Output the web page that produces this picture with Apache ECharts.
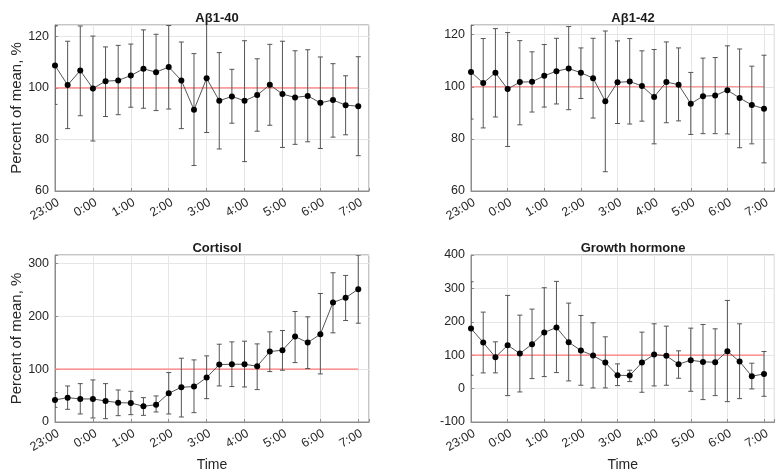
<!DOCTYPE html>
<html>
<head>
<meta charset="utf-8">
<script src="https://cdn.jsdelivr.net/npm/echarts@6/dist/echarts.min.js"></script>
<style>html,body{margin:0;padding:0;background:#fff}#c{width:777px;height:473px}</style>
</head>
<body>
<div id="c"></div>
<script>
// ---- Data ----
const times = ['23:00','23:20','23:40','0:00','0:20','0:40','1:00','1:20','1:40','2:00','2:20','2:40',
  '3:00','3:20','3:40','4:00','4:20','4:40','5:00','5:20','5:40','6:00','6:20','6:40','7:00'];
const xTickLabels = ['23:00','0:00','1:00','2:00','3:00','4:00','5:00','6:00','7:00'];

const ab40Mean = [108.7,101.1,106.7,99.8,102.6,102.9,104.8,107.4,106.1,108.1,102.9,91.5,103.7,95.0,96.7,95.0,97.2,101.2,97.6,96.3,96.9,94.2,95.3,93.3,92.9];
const ab40Low  = [93.6,84.2,89.2,79.4,88.9,89.6,92.5,92.1,91.2,91.8,84.2,69.9,82.7,76.3,86.3,71.4,83.2,85.5,76.9,78.1,79.1,76.5,80.9,81.8,73.7];
const ab40High = [124.0,118.1,124.0,120.1,115.9,116.5,117.0,122.5,120.8,124.2,117.8,113.3,124.6,113.7,107.2,118.3,111.3,116.9,118.1,114.4,114.8,112.0,109.4,104.7,112.1];

const ab42Mean = [105.7,101.4,105.4,99.1,101.8,101.9,104.2,106.0,107.0,105.4,103.3,94.4,101.7,102.0,100.3,96.1,101.8,100.8,93.5,96.4,96.6,98.7,95.7,93.0,91.6];
const ab42Low  = [87.6,84.2,88.4,77.1,85.4,90.3,92.2,93.4,91.2,95.5,88.0,67.4,85.9,85.7,86.8,78.1,86.2,86.9,81.7,82.0,82.0,81.9,76.6,78.1,70.8];
const ab42High = [123.8,118.5,122.3,120.8,117.7,113.4,116.2,118.6,123.1,114.9,118.6,121.4,117.6,118.5,113.8,114.3,117.2,114.9,105.5,111.0,111.2,115.7,114.5,107.9,112.1];

const cortMean = [41.7,46.1,43.6,43.6,39.8,36.6,36.0,29.7,32.8,54.3,65.7,67.0,84.0,108.7,109.3,109.3,105.5,133.3,135.8,161.7,150.3,166.1,226.1,235.0,251.4];
const cortLow  = [27.8,24.0,15.2,7.6,6.3,12.0,13.9,12.6,19.0,15.2,9.5,17.7,44.2,68.2,67.0,66.3,61.3,95.4,97.9,112.4,101.1,91.0,168.7,192.0,187.0];
const cortHigh = [55.6,68.2,72.6,79.6,72.6,60.6,58.1,46.1,49.3,93.5,120.7,117.5,125.1,147.2,151.6,152.9,147.8,170.6,173.1,209.1,199.0,243.2,282.4,277.3,315.8];

const ghMean = [180,138,94,130,105,133,168,183,139,114,99,78,40,39,78,102,98,73,85,80,79,112,81,37,44];
const ghLow  = [40,47,47,-21,-10,30,36,48,23,10,2,2,9,21,-11,8,10,31,-8,-33,-21,-39,-30,-1,-23];
const ghHigh = [320,229,140,279,220,238,302,321,256,219,197,155,74,55,169,194,187,113,181,192,179,264,194,76,111];

const panelTitles = ['A\u03b21-40','A\u03b21-42','Cortisol','Growth hormone'];
const refLevel = 100;

// ---- helpers ----
function toMin(t){ let [h,m]=t.split(':').map(Number); if(h>=23) h-=24; return (h+1)*60+m; }
const xs = times.map(toMin);
const tickMap = {}; xTickLabels.forEach(l=>{ tickMap[toMin(l)] = l; });

const panels = [
  {mean:ab40Mean, low:ab40Low, high:ab40High, ymin:60, ymax:124.4, step:20},
  {mean:ab42Mean, low:ab42Low, high:ab42High, ymin:60, ymax:123.7, step:20},
  {mean:cortMean, low:cortLow, high:cortHigh, ymin:0, ymax:316, step:100},
  {mean:ghMean, low:ghLow, high:ghHigh, ymin:-100, ymax:400, step:100}
];
const grids = [
  {left:55, top:25, width:314, height:166},
  {left:471, top:25, width:314, height:166},
  {left:55, top:255, width:314, height:167},
  {left:471, top:255, width:314, height:167}
];
const FONT = 'Liberation Sans, Arial, sans-serif';
const txt = '#262626';

function errRender(params, api){
  const x = api.value(0), lo = api.value(1), hi = api.value(2);
  const a = api.coord([x, lo]), b = api.coord([x, hi]);
  const w = 2.5;
  const st = {stroke:'#555', lineWidth:1, fill:null};
  return {type:'group', children:[
    {type:'line', shape:{x1:a[0],y1:a[1],x2:b[0],y2:b[1]}, style:st},
    {type:'line', shape:{x1:a[0]-w,y1:a[1],x2:a[0]+w,y2:a[1]}, style:st},
    {type:'line', shape:{x1:b[0]-w,y1:b[1],x2:b[0]+w,y2:b[1]}, style:st}
  ]};
}

const xAxis = [], yAxis = [], series = [], title = [];
panels.forEach((p,i)=>{
  const g = grids[i];
  title.push({text:panelTitles[i], left:g.left+157, top:g.top-18, textAlign:'center',
    textStyle:{fontFamily:FONT, fontSize:13, fontWeight:'bold', color:'#1a1a1a'}});
  xAxis.push({type:'value', gridIndex:i, min:0, max:497, interval:60,
    name: i>=2 ? 'Time' : '', nameLocation:'middle', nameGap:36,
    nameTextStyle:{fontFamily:FONT, fontSize:14, color:txt},
    axisLine:{show:true, onZero:false, lineStyle:{color:'#8c8c8c'}},
    axisTick:{show:true, inside:true, length:3, lineStyle:{color:'#8c8c8c'}},
    axisLabel:{rotate:30, margin:5, verticalAlign:'top', fontFamily:FONT, fontSize:12.5, color:txt,
      formatter:v=> tickMap[v]!==undefined ? tickMap[v] : ''},
    splitLine:{show:true, lineStyle:{color:'#e6e6e6'}}
  });
  yAxis.push({type:'value', gridIndex:i, min:p.ymin, max:p.ymax, interval:p.step,
    name: (i%2===0) ? 'Percent of mean, %' : '', nameLocation:'middle', nameGap:24,
    nameTextStyle:{fontFamily:FONT, fontSize:15, color:txt},
    axisLine:{show:true, lineStyle:{color:'#8c8c8c'}},
    axisTick:{show:true, inside:true, length:3, lineStyle:{color:'#8c8c8c'}},
    axisLabel:{margin:6, fontFamily:FONT, fontSize:12.5, color:txt,
      formatter:v=> (Math.abs((v-p.ymin)/p.step - Math.round((v-p.ymin)/p.step))<1e-6) ? String(v) : ''},
    splitLine:{show:true, lineStyle:{color:'#e6e6e6'}}
  });
  series.push({type:'line', xAxisIndex:i, yAxisIndex:i, data:[[xs[0],refLevel],[xs[xs.length-1],refLevel]],
    symbol:'none', lineStyle:{color:'#ff7a7a', width:1.2}, z:2, silent:true});
  series.push({type:'custom', xAxisIndex:i, yAxisIndex:i, clip:true, renderItem:errRender,
    data: xs.map((x,k)=>[x, p.low[k], p.high[k]]), z:3, silent:true});
  series.push({type:'line', xAxisIndex:i, yAxisIndex:i, data: xs.map((x,k)=>[x,p.mean[k]]),
    symbol:'circle', symbolSize:6, itemStyle:{color:'#000'}, lineStyle:{color:'#555', width:1}, z:4, silent:true});
});

const chart = echarts.init(document.getElementById('c'), null, {renderer:'canvas'});
chart.setOption({
  animation:false, backgroundColor:'#fff', title,
  grid: grids.map(g=>Object.assign({show:true, borderColor:'#8c8c8c', borderWidth:1, containLabel:false}, g)),
  xAxis, yAxis, series
});
</script>
</body>
</html>
